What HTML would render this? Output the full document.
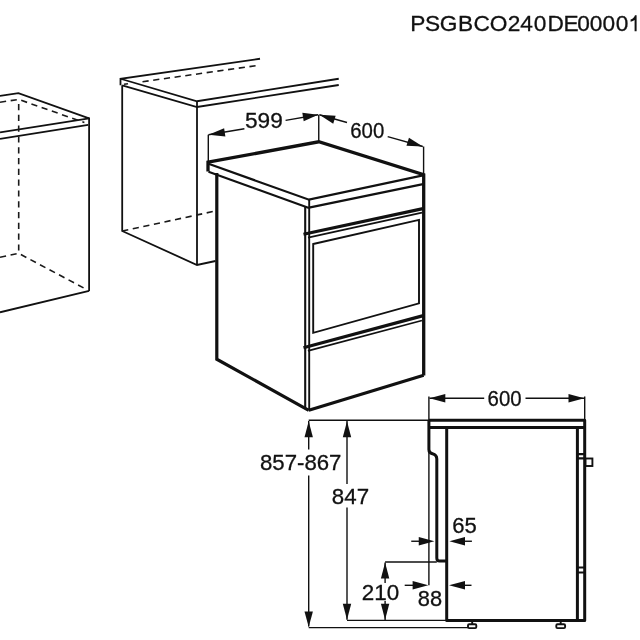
<!DOCTYPE html>
<html><head><meta charset="utf-8">
<style>
html,body{margin:0;padding:0;background:#fff;width:640px;height:640px;overflow:hidden}
svg{position:absolute;left:0;top:0;display:block;will-change:transform}
text{font-family:"Liberation Sans",sans-serif;fill:#111;stroke:#111;stroke-width:0.3}
</style></head>
<body>
<svg width="640" height="640" viewBox="0 0 640 640">
<rect width="640" height="640" fill="#fff"/>

<!-- title -->

<!-- LEFT CABINET -->
<g fill="none" stroke="#111" stroke-width="1.8" stroke-linejoin="miter">
  <path d="M0,95.9 L18.4,93.1 L89.1,118.4"/>
  <path d="M0,132.3 L89.1,118.4"/>
  <path d="M0,138.8 L88.2,124.8"/>
  <path d="M89.1,117.6 L89.1,291"/>
  <path d="M0,312.3 L89.1,290.8"/>
</g>
<g fill="none" stroke="#1a1a1a" stroke-width="1.6" stroke-dasharray="6.2,4.6">
  <path d="M0,102.2 L18.6,99.4 L84.4,122.5"/>
  <path d="M18.7,104 L18.7,253.3"/>
  <path d="M0,257.2 L18.6,253.3 L87.5,290"/>
</g>

<!-- MIDDLE CABINET -->
<g fill="none" stroke="#111" stroke-width="1.8">
  <path d="M120.5,85.3 L120.5,78.75 L260,58.75"/>
  <path d="M120.5,78.75 L197,101.25 L338.75,78.75"/>
  <path d="M122.2,85.3 L197,107 L338.75,85"/>
  <path d="M122.2,85.3 L122.2,231 L197,265 L215.5,261"/>
  <path d="M197,101.25 L197,265"/>
</g>
<g fill="none" stroke="#1a1a1a" stroke-width="1.6" stroke-dasharray="6.2,4.6">
  <path d="M124,84.3 L128,83.7"/>
  <path d="M142.5,81.7 L257.5,65.5"/>
  <path d="M122.2,231 L215.5,211"/>
</g>

<!-- COOKER -->
<g fill="none" stroke="#111" stroke-linejoin="miter">
  <!-- top back edges thick -->
  <path d="M208,171.5 L208,162.2 L318.75,141.8 L423.7,174.6 L423.7,375.5" stroke-width="3.3"/>
  <!-- top front edges -->
  <path d="M208.5,163.8 L309,199.7 L423,175.4" stroke-width="2.2"/>
  <path d="M208.5,171.7 L309,207.9" stroke-width="2.1"/>
  <path d="M309,207.6 L423,184.1" stroke-width="2.1"/>
  <path d="M309.2,199.7 L309.2,409.5" stroke-width="1.9"/>
  <path d="M305.2,206.6 L305.2,408" stroke-width="2.1"/>
  <!-- left side -->
  <path d="M216.8,173 L216.8,359.2 L308.8,410.3" stroke-width="3.2"/>
  <!-- bottom front -->
  <path d="M308.8,410.3 L423.7,375.3" stroke-width="3.2"/>
  <!-- control panel -->
  <path d="M303.5,234.2 L423,208.6" stroke-width="3.2"/>
  <path d="M308,237.6 L422,212.7" stroke-width="1.8"/>
  <!-- door -->
  <path d="M313.2,244 L419,219.9 L419,303.3 L313.2,332.8 Z" stroke-width="1.9"/>
  <!-- drawer -->
  <path d="M303.5,347.8 L423.3,315.6" stroke-width="3.2"/>
  <path d="M307.9,350.9 L422,320.5" stroke-width="1.8"/>
</g>

<!-- top dimensions -->
<g fill="none" stroke="#111" stroke-width="1.4">
  <path d="M208.3,161 L208.3,134.7"/>
  <path d="M318.75,141.25 L318.75,114.7"/>
  <path d="M423.6,174 L423.6,146.5"/>
  <path d="M208.5,134.7 L244.4,128.8"/>
  <path d="M285.6,120.4 L318.1,114.75"/>
  <path d="M319.4,114.75 L347,122.5"/>
  <path d="M387.7,136.6 L422.8,146.5"/>
</g>
<g fill="#111">
  <!-- 599 left arrowhead -->
  <path d="M208.50,134.70 L224.12,128.30 L225.38,136.60 Z"/>
  <!-- 599 right arrowhead -->
  <path d="M318.10,114.75 L302.31,112.86 L303.69,121.14 Z"/>
  <!-- 600 left arrowhead -->
  <path d="M319.40,114.75 L335.66,115.78 L333.24,123.82 Z"/>
  <!-- 600 right arrowhead -->
  <path d="M422.80,146.50 L406.44,145.81 L408.96,137.79 Z"/>
</g>

<!-- SIDE VIEW -->
<g fill="none" stroke="#111" stroke-width="3" stroke-linejoin="round">
  <path d="M428.9,420.3 L584.7,420.3 L584.7,620.4 L446.7,620.4 L446.7,427.6"/>
  <path d="M584.7,427.4 L428.9,427.4"/>
  <path d="M428.9,420.3 L428.9,449.5 C428.9,452.5 430.5,453.3 432.5,453.8 C435.5,454.6 436.8,456 436.8,459 L436.8,558 C436.8,560 437.6,561 439.5,561 L446.7,561"/>
  <path d="M577.4,427.4 L577.4,620.4"/>
  <path d="M577.4,454.2 L584.7,454.2 M577.4,458.3 L584.7,458.3" stroke-width="2.2"/>
  <path d="M577.4,567.5 L584.7,567.5 M577.4,572.5 L584.7,572.5" stroke-width="2"/>
</g>
<g fill="none" stroke="#111" stroke-width="1.9">
  <rect x="585.4" y="458.5" width="7" height="7.5"/>
  <rect x="468" y="624.3" width="8.3" height="3.8" rx="1.2"/>
  <rect x="556.3" y="624.3" width="8.8" height="3.8" rx="1.2"/>
  <path d="M472.2,621 L472.2,624.5 M560.7,621 L560.7,624.5"/>
</g>

<!-- side dimension lines -->
<g fill="none" stroke="#111" stroke-width="1.4">
  <path d="M428.9,396.5 L428.9,585.3"/>
  <path d="M584.7,396.5 L584.7,420"/>
  <path d="M429.5,398.3 L484.2,398.3"/>
  <path d="M525.5,398.3 L584.3,398.3"/>
  <!-- 857-867 -->
  <path d="M308.7,420.3 L428.9,420.3"/>
  <path d="M308.7,421 L308.7,449.4"/>
  <path d="M308.7,475.6 L308.7,626.5"/>
  <path d="M308.7,627.6 L467.8,627.6"/>
  <!-- 847 -->
  <path d="M347,421 L347,484"/>
  <path d="M347,507.5 L347,619.8"/>
  <path d="M347,620.4 L446.7,620.4"/>
  <!-- 210 -->
  <path d="M385.1,562 L436.8,562"/>
  <path d="M385.1,562.5 L385.1,583"/>
  <path d="M385.1,601 L385.1,620"/>
  <!-- 65 -->
  <path d="M411.25,541.25 L420,541.25"/>
  <path d="M465,541.25 L471.9,541.25"/>
  <!-- 88 -->
  <path d="M404.7,585.3 L414,585.3"/>
  <path d="M465,585.3 L471.5,585.3"/>
</g>
<g fill="#111">
  <!-- 600 side arrows -->
  <path d="M429.50,398.30 L445.30,394.10 L445.30,402.50 Z"/>
  <path d="M584.30,398.30 L568.50,394.10 L568.50,402.50 Z"/>
  <!-- 857-867 arrows -->
  <path d="M308.70,421.20 L304.50,437.20 L312.90,437.20 Z"/>
  <path d="M308.70,627.00 L304.50,611.50 L312.90,611.50 Z"/>
  <!-- 847 arrows -->
  <path d="M347.00,421.20 L342.80,437.20 L351.20,437.20 Z"/>
  <path d="M347.00,619.70 L342.80,603.80 L351.20,603.80 Z"/>
  <!-- 210 arrows -->
  <path d="M385.10,562.50 L380.90,578.50 L389.30,578.50 Z"/>
  <path d="M385.10,619.80 L380.90,603.80 L389.30,603.80 Z"/>
  <!-- 65 arrows -->
  <path d="M434.40,541.25 L418.75,537.05 L418.75,545.45 Z"/>
  <path d="M449.40,541.25 L465.00,537.05 L465.00,545.45 Z"/>
  <!-- 88 arrows -->
  <path d="M428.30,585.30 L412.60,581.10 L412.60,589.50 Z"/>
  <path d="M449.00,585.30 L465.00,581.10 L465.00,589.50 Z"/>
</g>
<g class="txt">
<text x="410.15 424.90 439.65 457.95 473.45 489.70 507.65 520.30 533.70 547.55 563.55 577.30 589.80 602.50 615.70" y="31.30" font-size="22.7">PSGBCO240DE0000</text>
<path d="M630.6,19.6 C632.6,19.0 634.3,17.6 635.0,15.3 L636.6,15.3 L636.6,31.2 L634.6,31.2 L634.6,20.0 C633.6,20.8 632.2,21.4 630.6,21.7 Z" fill="#111"/>
<text x="245.00" y="128.20" font-size="22.40" textLength="37.80" lengthAdjust="spacingAndGlyphs">599</text>
<text x="350.20" y="138.00" font-size="22.40" textLength="34.05" lengthAdjust="spacingAndGlyphs">600</text>
<text x="487.55" y="406.15" font-size="22.40" textLength="34.00" lengthAdjust="spacingAndGlyphs">600</text>
<text x="259.95" y="469.75" font-size="22.40" textLength="81.50" lengthAdjust="spacingAndGlyphs">857-867</text>
<text x="331.85" y="503.55" font-size="22.40" textLength="37.25" lengthAdjust="spacingAndGlyphs">847</text>
<text x="452.20" y="532.55" font-size="22.40" textLength="24.55" lengthAdjust="spacingAndGlyphs">65</text>
<text x="361.85" y="600.20" font-size="22.40" textLength="37.40" lengthAdjust="spacingAndGlyphs">210</text>
<text x="417.85" y="605.50" font-size="22.40" textLength="24.30" lengthAdjust="spacingAndGlyphs">88</text>
</g>
</svg>
</body></html>
